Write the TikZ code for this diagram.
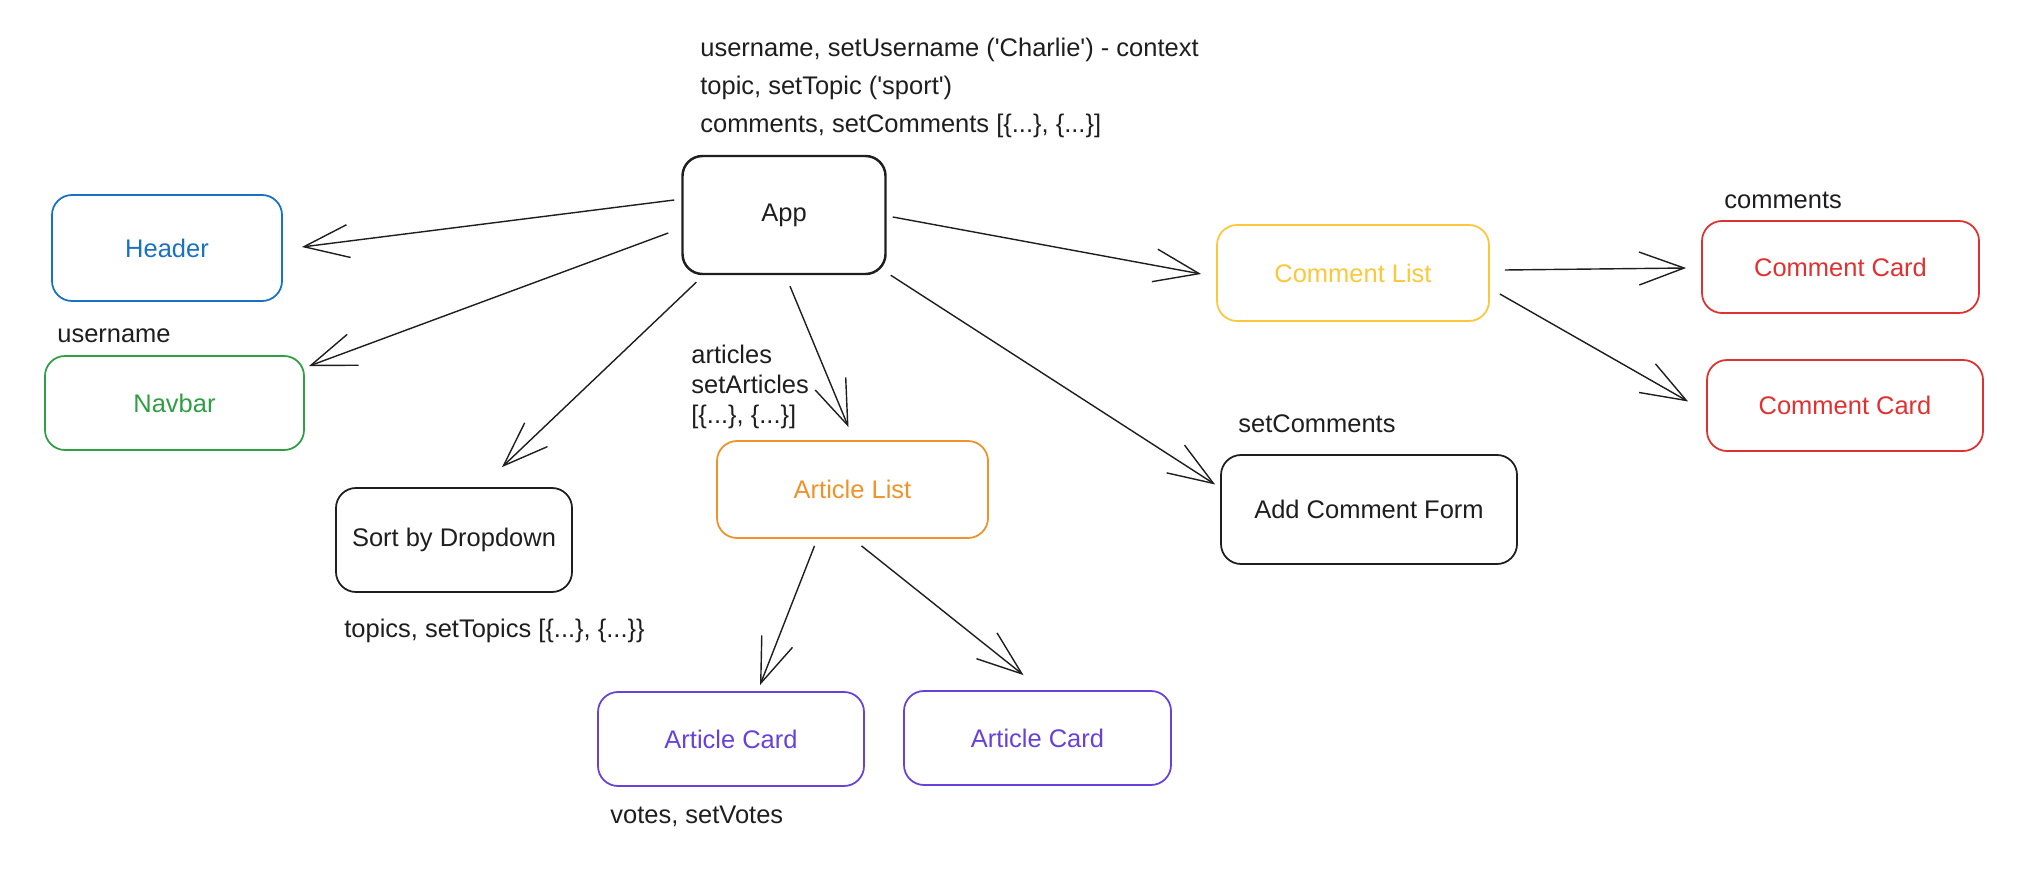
\documentclass[tikz,border=0pt]{standalone}
\usepackage{fontspec}
\setmainfont{Liberation Sans}
\usepackage{xcolor}
\usepackage{tikz}
\usetikzlibrary{arrows.meta}

\definecolor{ink}{HTML}{1E1E1E}
\definecolor{hdrblue}{HTML}{1971C2}
\definecolor{navgreen}{HTML}{2F9E44}
\definecolor{cmtyellow}{HTML}{FCC83A}
\definecolor{artorange}{HTML}{F0922A}
\definecolor{cardviolet}{HTML}{6741D9}
\definecolor{cardred}{HTML}{E03131}

\begin{document}
\begin{tikzpicture}[
  x=0.2mm, y=-0.2mm,
  box/.style={rectangle,rounded corners=4mm,draw=#1,text=#1,line width=1pt,inner sep=0pt,
              font=\fontsize{14.5}{17.4}\selectfont,align=center},
  box/.default=ink,
  lbl/.style={anchor=west,inner sep=0pt,text=ink,align=left,font=\fontsize{14.5}{17.4}\selectfont},
  arr/.style={-{Straight Barb[length=9mm,width=6.6mm]},line width=0.8pt,draw=ink}
]
  \useasboundingbox (0,0) rectangle (2028,882);

  % components
  \node[box,line width=1.4pt,minimum width=40.6mm,minimum height=23.6mm] (app) at (784,215) {App};
  \node[box=hdrblue,minimum width=46mm,minimum height=21.2mm] (header) at (167,248) {Header};
  \node[box=navgreen,minimum width=51.8mm,minimum height=18.8mm] (navbar) at (174.5,403) {Navbar};
  \node[box,minimum width=47.2mm,minimum height=20.8mm] (sortdd) at (454,540) {Sort by Dropdown};
  \node[box=artorange,minimum width=54.2mm,minimum height=19.4mm] (artlist) at (852.5,489.5) {Article List};
  \node[box=cardviolet,minimum width=53.2mm,minimum height=18.8mm] (artcard1) at (731,739) {Article Card};
  \node[box=cardviolet,minimum width=53.4mm,minimum height=18.8mm] (artcard2) at (1037.5,738) {Article Card};
  \node[box,minimum width=59.2mm,minimum height=21.8mm] (cmtform) at (1369,509.5) {Add Comment Form};
  \node[box=cmtyellow,minimum width=54.4mm,minimum height=19.2mm] (cmtlist) at (1353,273) {Comment List};
  \node[box=cardred,minimum width=55.4mm,minimum height=18.4mm] (cmtcard1) at (1840.5,267) {Comment Card};
  \node[box=cardred,minimum width=55.2mm,minimum height=18.2mm] (cmtcard2) at (1845,405.5) {Comment Card};

  % state labels
  \node[lbl,font=\fontsize{14.5}{21.5}\selectfont] (appstate) at (700,88)
    {username, setUsername (\textquotesingle Charlie\textquotesingle) - context\\
     topic, setTopic (\textquotesingle sport\textquotesingle)\\
     comments, setComments [\{...\}, \{...\}]};
  \node[lbl] (userlbl) at (57,336) {username};
  \node[lbl,font=\fontsize{14.5}{17}\selectfont] (artlbl) at (691,387) {articles\\setArticles\\{}[\{...\}, \{...\}]};
  \node[lbl] (topiclbl) at (344,631) {topics, setTopics [\{...\}, \{...\}\}};
  \node[lbl] (votelbl) at (610,816) {votes, setVotes};
  \node[lbl] (cmtlbl) at (1724,200) {comments};
  \node[lbl] (setcmtlbl) at (1238,424) {setComments};

  % props flow
  \draw[arr] ([shift={(-7,-15)}]app.west) -- ([shift={(19,-1)}]header.east);
  \draw[arr] ([shift={(-13,18)}]app.west) -- ([shift={(4,11)}]navbar.north east);
  \draw[arr] ([shift={(15,7)}]app.south west) -- ([shift={(48,-20)}]sortdd.north);
  \draw[arr] ([shift={(6,11)}]app.south) -- ([shift={(-4,-13)}]artlist.north);
  \draw[arr] ([shift={(4,0)}]app.south east) -- ([shift={(-5,-25)}]cmtform.west);
  \draw[arr] ([shift={(6,2)}]app.east) -- ([shift={(-15,1)}]cmtlist.west);
  \draw[arr] ([shift={(15,-3)}]cmtlist.east) -- ([shift={(-15,1)}]cmtcard1.west);
  \draw[arr] ([shift={(10,21)}]cmtlist.east) -- ([shift={(-18,-4)}]cmtcard2.west);
  \draw[arr] ([shift={(-38,7)}]artlist.south) -- ([shift={(29,-6)}]artcard1.north);
  \draw[arr] ([shift={(9,7)}]artlist.south) -- ([shift={(-14,-15)}]artcard2.north);
\end{tikzpicture}
\end{document}
